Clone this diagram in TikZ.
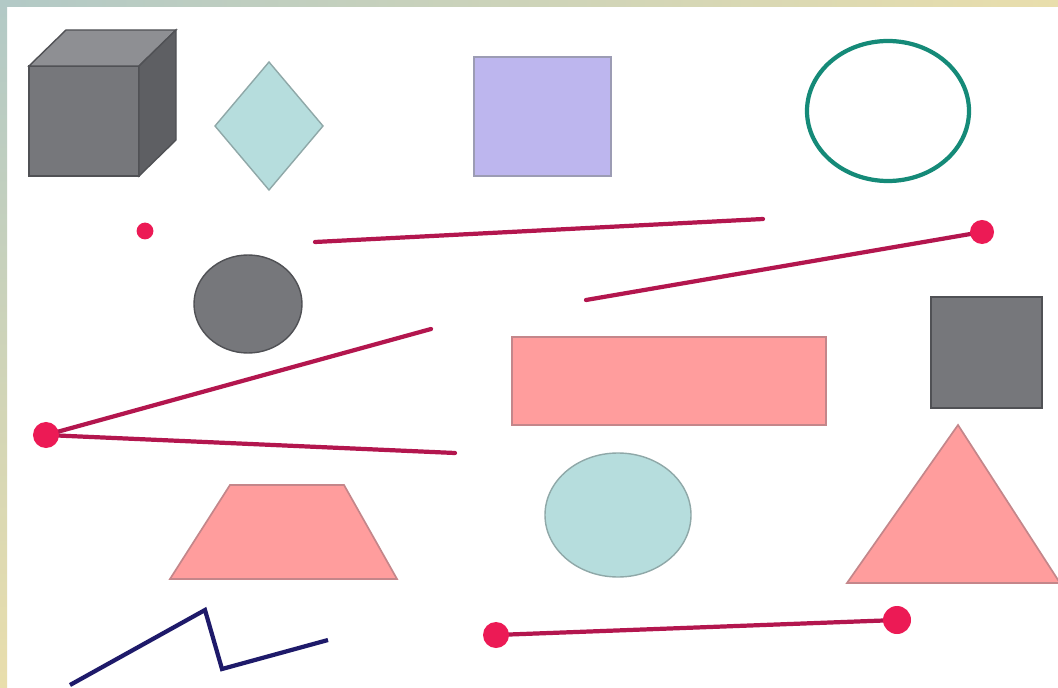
\documentclass[tikz,border=0pt]{standalone}
\definecolor{crim}{HTML}{B3164E}
\definecolor{dotred}{HTML}{EC1A55}
\definecolor{pinkf}{HTML}{FF9D9D}
\definecolor{pinkd}{HTML}{C4868A}
\definecolor{lblue}{HTML}{B6DDDD}
\definecolor{lbluedraw}{HTML}{8FA8A8}
\definecolor{lav}{HTML}{BDB6EE}
\definecolor{lavd}{HTML}{9C9CB4}
\definecolor{tealc}{HTML}{158A78}
\definecolor{grayf}{HTML}{76777B}
\definecolor{graytop}{HTML}{8E8F93}
\definecolor{grayside}{HTML}{5E5F63}
\definecolor{grayd}{HTML}{505155}
\definecolor{navy}{HTML}{1E1A6A}
\definecolor{stripA}{HTML}{B2C9C6}
\definecolor{stripB}{HTML}{E9DEAC}
\tikzset{
  redline/.style={draw=crim, line width=3pt, line cap=round},
  reddot/.style={circle, fill=dotred, inner sep=0pt},
  pinkshape/.style={fill=pinkf, draw=pinkd, line width=1.2pt},
  blueshape/.style={fill=lblue, draw=lbluedraw, line width=1pt},
  grayshape/.style={fill=grayf, draw=grayd, line width=1pt},
}
\begin{document}
\begin{tikzpicture}[x=0.025cm, y=-0.025cm]
\useasboundingbox (0,0) rectangle (1058,688);
% background frame strips
\fill[white] (0,0) rectangle (1058,688);
\shade[left color=stripA, right color=stripB] (0,0) rectangle (1058,7);
\shade[top color=stripA, bottom color=stripB] (0,0) rectangle (7,688);
% cube
\filldraw[fill=grayf, draw=grayd, line width=1pt] (29,66) rectangle (139,176);
\filldraw[fill=graytop, draw=grayd, line width=1pt] (29,66) -- (66,30) -- (176,30) -- (139,66) -- cycle;
\filldraw[fill=grayside, draw=grayd, line width=1pt] (139,66) -- (176,30) -- (176,140) -- (139,176) -- cycle;
% diamond
\filldraw[blueshape] (269,62) -- (323,126) -- (269,190) -- (215,126) -- cycle;
% lavender square
\filldraw[fill=lav, draw=lavd, line width=1.2pt] (474,57) rectangle (611,176);
% teal ellipse
\draw[tealc, line width=3pt] (888,111) ellipse [x radius=81, y radius=70];
% gray ellipse
\filldraw[grayshape] (248,304) ellipse [x radius=54, y radius=49];
% gray square
\filldraw[grayshape] (931,297) rectangle (1042,408);
% pink rect
\filldraw[pinkshape] (512,337) rectangle (826,425);
% triangle
\filldraw[pinkshape] (958,425) -- (1060,583) -- (847,583) -- cycle;
% trapezoid
\filldraw[pinkshape] (230,485) -- (344,485) -- (397,579) -- (170,579) -- cycle;
% light blue circle
\filldraw[blueshape] (618,515) ellipse [x radius=73, y radius=62];
% red lines and dots
\coordinate (l1a) at (315,242); \coordinate (l1b) at (763,219);
\draw[redline] (l1a) -- (l1b);
\node[reddot, minimum size=0.42cm] (d1) at (145,231) {};
\coordinate (l2a) at (586,300);
\draw[redline] (l2a) -- (982,232);
\node[reddot, minimum size=0.6cm] (d2) at (982,232) {};
\coordinate (l3a) at (431,329); \coordinate (l3b) at (455,453);
\coordinate (d3c) at (46,435);
\draw[redline] (d3c) -- (l3a);
\draw[redline] (d3c) -- (l3b);
\node[reddot, minimum size=0.65cm] (d3) at (d3c) {};
\coordinate (d4c) at (496,635); \coordinate (d5c) at (897,620);
\draw[redline] (d4c) -- (d5c);
\node[reddot, minimum size=0.65cm] (d4) at (d4c) {};
\node[reddot, minimum size=0.7cm] (d5) at (d5c) {};
% navy zigzag
\coordinate (z1) at (70,685); \coordinate (z2) at (205,610);
\coordinate (z3) at (222,669); \coordinate (z4) at (328,640);
\draw[navy, line width=3pt, line join=miter] (z1) -- (z2) -- (z3) -- (z4);
\end{tikzpicture}
\end{document}
